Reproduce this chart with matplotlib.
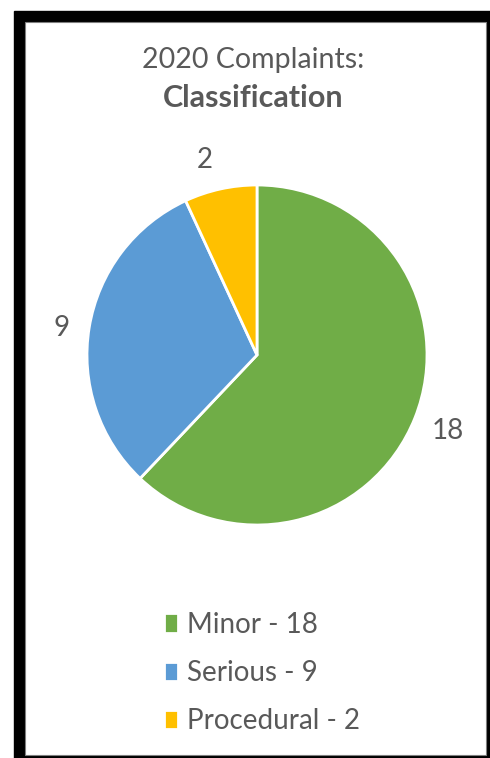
import matplotlib
matplotlib.use("Agg")
import matplotlib.pyplot as plt
from matplotlib.patches import Rectangle

# data
categories = ["Minor", "Serious", "Procedural"]
counts = [18, 9, 2]
colors = ["#70AD47", "#5B9BD5", "#FFC000"]
text_gray = "#595959"

plt.rcParams['font.family'] = ['Lato', 'DejaVu Sans']

W, H = 490, 758
fig = plt.figure(figsize=(W / 100, H / 100), dpi=100)

# black frame around the white chart area
fig.patches.append(Rectangle((14 / W, 0), 1 - 14 / W, 1 - 11 / H,
                             transform=fig.transFigure, color="black", zorder=-2))
fig.patches.append(Rectangle((25 / W, 3 / H), (486 - 25) / W, (755 - 22) / H,
                             transform=fig.transFigure, facecolor="white",
                             edgecolor="#7f7f7f", linewidth=0.8, zorder=-1))

# title
fig.text(253 / W, 1 - 60 / H, "2020 Complaints:", ha="center", va="center",
         fontsize=20.5, color=text_gray)
fig.text(253 / W, 1 - 98 / H, "Classification", ha="center", va="center",
         fontsize=22, fontweight="bold", color=text_gray)

# pie
cx, cy, r = 257, 355, 170
ax = fig.add_axes([(cx - r) / W, (H - cy - r) / H, 2 * r / W, 2 * r / H])
wedges, texts = ax.pie(counts, colors=colors, startangle=90, counterclock=False,
                       labels=[str(c) for c in counts], labeldistance=1.21,
                       wedgeprops=dict(edgecolor="white", linewidth=2),
                       textprops=dict(fontsize=20, color=text_gray))
for t in texts:
    t.set_ha("center")
    t.set_va("center")
# Excel "best fit" moves the small slice label to the left of the slice
texts[2].set_position((-0.31, 1.15))
texts[1].set_position((-1.15, 0.16))
ax.set_xlim(-1, 1)
ax.set_ylim(-1, 1)
ax.set_aspect("equal")
ax.axis("off")

# legend
fig.legend(wedges, [f"{c} - {v}" for c, v in zip(categories, counts)],
           loc="center", bbox_to_anchor=(262 / W, 1 - 673 / H), frameon=False,
           fontsize=20, labelcolor=text_gray, handlelength=0.5, handleheight=0.7,
           handletextpad=0.35, labelspacing=0.8)

fig.savefig("out.png", dpi=100)
